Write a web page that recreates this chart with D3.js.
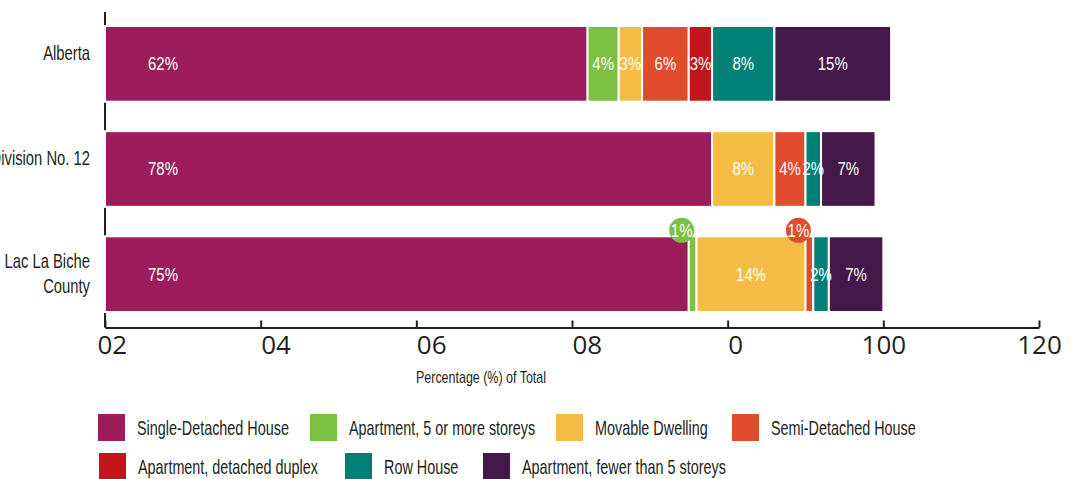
<!DOCTYPE html>
<html>
<head>
<meta charset="utf-8">
<title>Dwelling types</title>
<script src="https://d3js.org/d3.v7.min.js"></script>
<style>
  * { margin: 0; padding: 0; }
  body { background: #fff; width: 1077px; height: 479px; overflow: hidden; }
  .narrow { font-family: "Liberation Sans", Arial, sans-serif; }
</style>
</head>
<body>
<div id="chart"></div>
<script>
// data
const categories = ["Alberta", "Division No. 12", "Lac La Biche County"];
const categoryLines = [["Alberta"], ["Division No. 12"], ["Lac La Biche", "County"]];

const seriesNames = [
  "Single-Detached House",
  "Apartment, 5 or more storeys",
  "Movable Dwelling",
  "Semi-Detached House",
  "Apartment, detached duplex",
  "Row House",
  "Apartment, fewer than 5 storeys"
];
const seriesColors = ["#9c1d5b", "#7bc143", "#f4bc45", "#e04d2d", "#c3161c", "#007f77", "#45184a"];

const singleDetached = [62, 78, 75];
const apartment5Plus = [4, 0, 1];
const movableDwelling = [3, 8, 14];
const semiDetached = [6, 4, 1];
const detachedDuplex = [3, 0, 0];
const rowHouse = [8, 2, 2];
const apartmentFewer5 = [15, 7, 7];

const tickValues = [0, 20, 40, 60, 80, 100, 120];
const tickLabels = ["02", "04", "06", "08", "0", "100", "120"];
const axisTitle = "Percentage (%) of Total";

const seriesValues = [singleDetached, apartment5Plus, movableDwelling, semiDetached,
                      detachedDuplex, rowHouse, apartmentFewer5];

// table for d3.stack
const table = categories.map((c, i) => {
  const row = { category: c };
  seriesNames.forEach((s, j) => { row[s] = seriesValues[j][i]; });
  return row;
});

const W = 1077, H = 479;
const axisY = 327.5;
const ink = "#231f20";

const svg = d3.select("#chart").append("svg")
  .attr("width", W)
  .attr("height", H);

const x = d3.scaleLinear().domain([0, 120]).range([105, 1039]);
const y = d3.scaleBand().domain(categories).range([26, 312]).paddingInner(0.28).paddingOuter(0);
const color = d3.scaleOrdinal().domain(seriesNames).range(seriesColors);

const stacked = d3.stack().keys(seriesNames)(table);

// no condensed face installed, so squeeze a normal one sideways
function squeezed(parent, px, py, sx) {
  return parent.append("g")
    .attr("transform", "translate(" + px + "," + py + ") scale(" + sx + ",1)")
    .append("text")
    .attr("class", "narrow");
}

// y axis line
svg.append("line")
  .attr("x1", x(0)).attr("x2", x(0))
  .attr("y1", 12).attr("y2", axisY)
  .attr("stroke", ink)
  .attr("stroke-width", 2);

// x axis
const xAxis = d3.axisBottom(x)
  .tickValues(tickValues)
  .tickSizeInner(-7)
  .tickSizeOuter(0)
  .tickFormat((d, i) => tickLabels[i]);

const gx = svg.append("g")
  .attr("transform", "translate(0," + axisY + ")")
  .call(xAxis);
gx.select(".domain").attr("stroke", ink).attr("stroke-width", 2);
gx.selectAll(".tick line").attr("stroke", ink).attr("stroke-width", 2);
gx.selectAll(".tick text")
  .attr("font-family", "'Open Sans', sans-serif")
  .attr("font-size", 26)
  .attr("fill", ink)
  .attr("y", 26.5)
  .attr("dy", 0)
  .attr("text-anchor", (d, i) => i < 5 ? "start" : "middle")
  .attr("dx", (d, i) => i === 0 ? -8 : 0);

squeezed(svg, 416, 383, 0.78)
  .attr("font-size", 16)
  .attr("fill", ink)
  .text(axisTitle);

// bars
const layers = svg.append("g").selectAll("g")
  .data(stacked)
  .join("g")
  .attr("fill", d => color(d.key));

layers.selectAll("rect")
  .data(d => d.filter(p => p[1] > p[0]))
  .join("rect")
  .attr("x", d => x(d[0]))
  .attr("y", d => y(d.data.category))
  .attr("width", d => x(d[1]) - x(d[0]))
  .attr("height", y.bandwidth())
  .attr("stroke", "#fff")
  .attr("stroke-width", 2);

// value labels
const labelData = [];
stacked.forEach((layer, si) => {
  layer.forEach(p => {
    const v = p[1] - p[0];
    if (v > 0) labelData.push({ key: layer.key, si: si, v: v, x0: p[0], x1: p[1], cat: p.data.category });
  });
});

const labelLayer = svg.append("g");
labelData.filter(d => d.v >= 2).forEach(d => {
  const cx = d.si === 0 ? x(d.x0) + 58 : (x(d.x0) + x(d.x1)) / 2;
  const cy = y(d.cat) + y.bandwidth() / 2;
  squeezed(labelLayer, cx, cy, 0.83)
    .attr("dy", "0.36em")
    .attr("text-anchor", "middle")
    .attr("font-size", 18)
    .attr("fill", "#fff")
    .text(d.v + "%");
});

// bubbles for tiny segments
labelData.filter(d => d.v < 2).forEach(d => {
  const bx = (x(d.x0) + x(d.x1)) / 2 - 11;
  const by = y(d.cat) - 6;
  labelLayer.append("circle")
    .attr("cx", bx).attr("cy", by)
    .attr("r", 12.5)
    .attr("fill", color(d.key));
  squeezed(labelLayer, bx, by, 0.83)
    .attr("dy", "0.36em")
    .attr("text-anchor", "middle")
    .attr("font-size", 18)
    .attr("fill", "#fff")
    .text(d.v + "%");
});

// category labels
categories.forEach((c, i) => {
  const lines = categoryLines[i];
  const cy = y(c) + y.bandwidth() / 2;
  const t = squeezed(svg, 90, cy, 0.74)
    .attr("text-anchor", "end")
    .attr("font-size", 20)
    .attr("fill", ink);
  lines.forEach((ln, k) => {
    t.append("tspan")
      .attr("x", 0)
      .attr("y", lines.length > 1 ? (k === 0 ? -6 : 19) : -4)
      .text(ln);
  });
});

// legend
const legendX = [98, 310, 556, 732, 99, 345, 483];
const legendRow = [0, 0, 0, 0, 1, 1, 1];
const legendTop = [414, 453];

seriesNames.forEach((s, i) => {
  const lx = legendX[i], ly = legendTop[legendRow[i]];
  svg.append("rect")
    .attr("x", lx).attr("y", ly)
    .attr("width", 27)
    .attr("height", 27)
    .attr("fill", color(s));
  squeezed(svg, lx + 39, ly + 21, 0.72)
    .attr("font-size", 20)
    .attr("fill", ink)
    .text(s);
});
</script>
</body>
</html>
